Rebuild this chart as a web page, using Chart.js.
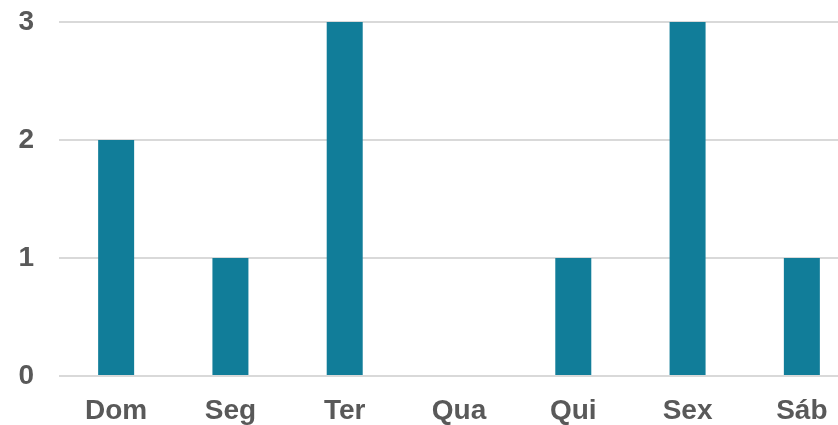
<!DOCTYPE html>
<html>
<head>
<meta charset="utf-8">
<script src="https://cdn.jsdelivr.net/npm/chart.js@4"></script>
<style>
html,body{margin:0;padding:0;background:#fff;overflow:hidden;width:838px;height:425px;}
#wrap{width:859px;height:425px;}
</style>
</head>
<body>
<div id="wrap"><canvas id="c" width="859" height="425"></canvas></div>
<script>
const categories = ["Dom", "Seg", "Ter", "Qua", "Qui", "Sex", "Sáb"];
const values = [2, 1, 3, 0, 1, 3, 1];
const yTicks = [0, 1, 2, 3];

const font = {family: "'Liberation Sans', Arial, sans-serif", size: 28, weight: "bold"};

new Chart(document.getElementById("c"), {
  type: "bar",
  data: {
    labels: categories,
    datasets: [{
      data: values,
      backgroundColor: "#117D99",
      categoryPercentage: 1,
      barPercentage: 0.315
    }]
  },
  options: {
    responsive: false,
    animation: false,
    layout: {padding: 0},
    plugins: {legend: {display: false}, tooltip: {enabled: false}},
    scales: {
      x: {
        grid: {display: false, drawTicks: false},
        border: {display: false},
        ticks: {color: "#595959", font: font, padding: 18},
        afterFit: s => { s.height = 49; s.paddingLeft = 0; s.paddingRight = 0; }
      },
      y: {
        min: 0, max: 3,
        afterBuildTicks: s => { s.ticks = yTicks.map(v => ({value: v})); },
        grid: {color: "#D9D9D9", lineWidth: 2, drawTicks: false},
        border: {display: false},
        ticks: {color: "#595959", font: font, padding: 25},
        afterFit: s => { s.width = 59; s.paddingTop = 22; s.paddingBottom = 0; }
      }
    }
  }
});
</script>
</body>
</html>
